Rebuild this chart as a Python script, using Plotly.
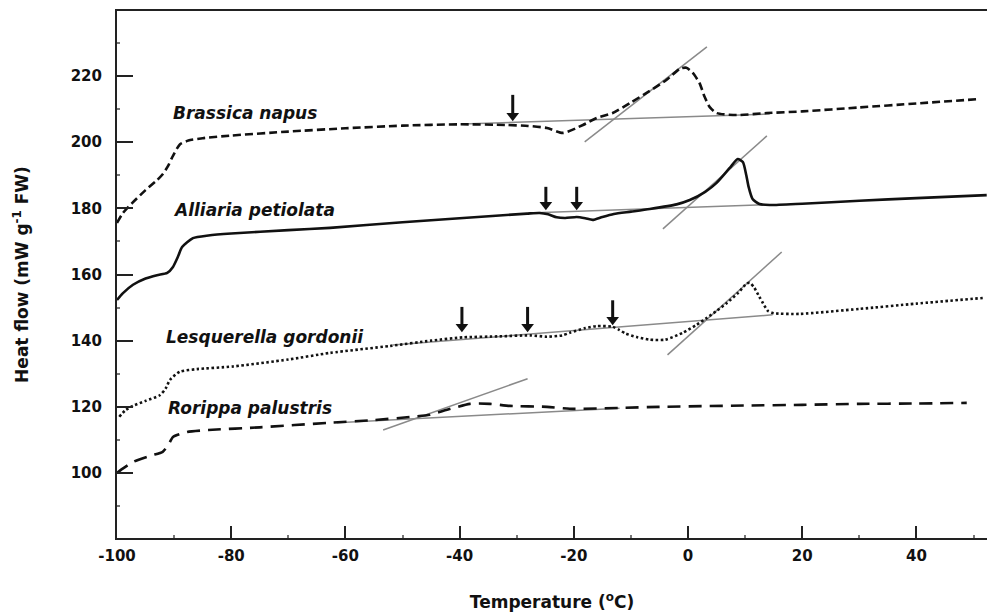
import plotly.graph_objects as go

# ---- data (temperature in degC, heat flow in mW g-1 FW) ----
brassica_x = [-100, -99, -97.4, -95, -93, -92, -91, -90.4, -89, -87.5, -85, -80, -70, -60, -50, -40,
              -32, -28, -24.7, -21.9, -18.4, -16, -13.2, -10.2, -6.7, -3.8, -1.4, -0.3, 0.8, 2, 2.9,
              3.8, 5, 8.5, 13.8, 20, 30, 40, 50.7]
brassica_y = [175.6, 178.5, 181.5, 185.5, 188.5, 190.3, 193, 195.2, 199.3, 200.5, 201.2, 202, 203.2,
              204.2, 205, 205.4, 205.2, 204.9, 204.3, 202.8, 205.2, 207.3, 208.8, 211.8, 215.5, 218.8,
              222.2, 222.5, 221, 217.9, 213.7, 210.6, 208.8, 208.2, 208.8, 209.3, 210.5, 211.7, 213]

alliaria_x = [-100, -99, -97.2, -95, -93, -91.2, -90.2, -89.3, -88.6, -86.7, -84, -80, -70, -62.7, -50,
              -40, -28.2, -26, -24.5, -23, -21.5, -19.5, -18, -16.7, -15, -13, -10, -6.7, -2, 0.3, 3, 5,
              7.3, 8.7, 9.6, 10.2, 10.6, 11.3, 12.5, 14.3, 20, 30, 40, 52.3]
alliaria_y = [152.3, 154.3, 156.9, 158.8, 159.8, 160.5, 162.3, 165.5, 168.3, 171, 171.8, 172.4, 173.4,
              174.1, 175.8, 177, 178.4, 178.6, 178.2, 177.3, 177.1, 177.4, 177, 176.5, 177.4, 178.3, 179,
              179.8, 181.2, 182.5, 185, 187.7, 192.2, 194.9, 194, 190, 186.5, 182.8, 181.3, 181, 181.4,
              182.3, 183.1, 184]

lesquerella_x = [-99.6, -98.5, -97.2, -95, -92.5, -91.5, -90.7, -89, -86, -79.7, -70, -62.7, -52.2, -45,
                 -39.4, -33, -27.7, -24.7, -22, -20.7, -18, -16, -13.2, -12, -11, -9, -6.7, -4, -0.9,
                 1.5, 3.3, 5, 6.8, 8.8, 10.3, 10.8, 11.6, 12.5, 13.1, 14, 15, 19.6, 30, 40, 51.6]
lesquerella_y = [117, 119, 120.3, 121.8, 123.5, 125.5, 128.2, 130.6, 131.4, 132.2, 134.3, 136.3, 138.4,
                 140, 141, 141.3, 141.6, 141.2, 141.6, 142.4, 143.8, 144.4, 144.2, 143.2, 142.2, 141.1,
                 140.3, 140.3, 142.4, 144.8, 146.9, 149, 151.4, 154.5, 157.3, 157.5, 156, 153.2, 151.4,
                 149, 148.3, 148.1, 149.6, 151.2, 152.9]

rorippa_x = [-100, -99, -97, -94, -92, -91, -90.2, -87.7, -84, -75, -62.7, -55, -48.2, -45.2, -42.2,
             -38.2, -34.7, -31.2, -24.7, -20.7, -11.4, -5, 10, 20, 30, 40, 48.8]
rorippa_y = [100, 101.3, 103.5, 105.3, 106.4, 108.5, 110.9, 112.4, 113, 113.8, 115.2, 116, 117, 117.6,
             119.1, 120.9, 120.9, 120.3, 120, 119.4, 119.7, 120, 120.4, 120.6, 120.9, 121, 121.2]

# construction lines (baselines and tangents)
brassica_base_x, brassica_base_y = [-39.6, 14.3], [205.5, 208.5]
brassica_tan_x, brassica_tan_y = [-18.1, 3.3], [200.1, 228.8]
alliaria_base_x, alliaria_base_y = [-28, 14], [178.6, 181.1]
alliaria_tan_x, alliaria_tan_y = [-4.4, 13.8], [173.8, 201.9]
lesquerella_base_x, lesquerella_base_y = [-51.7, 14.8], [138.7, 147.8]
lesquerella_tan_x, lesquerella_tan_y = [-3.6, 16.4], [135.7, 166.8]
rorippa_base_x, rorippa_base_y = [-61.5, -12], [115.2, 119.6]
rorippa_tan_x, rorippa_tan_y = [-53.4, -28.1], [113, 128.5]

# arrows marking transitions: x position, tip and tail heat-flow values
arrow_x = [-30.7, -24.9, -19.5, -39.6, -28.1, -13.2]
arrow_tip = [206.4, 179.5, 179.5, 142.6, 142.6, 144.7]
arrow_tail = [214.3, 186.5, 186.5, 150.2, 150.2, 152.2]

# species labels
label_text = ["Brassica napus", "Alliaria petiolata", "Lesquerella gordonii", "Rorippa palustris"]
label_x = [-90.5, -90.5, -91.8, -91.5]
label_y = [208.8, 179.5, 141.1, 119.7]

x_ticks = [-100, -80, -60, -40, -20, 0, 20, 40]
x_ticktext = ["-100", "-80", "-60", "-40", "-20", "0", "20", "40"]
y_ticks = [100, 120, 140, 160, 180, 200, 220]

FONT = "DejaVu Sans"
fig = go.Figure()

gray = dict(color="#8a8a8a", width=1.5)
for gx, gy in [(brassica_base_x, brassica_base_y), (brassica_tan_x, brassica_tan_y),
               (alliaria_base_x, alliaria_base_y), (alliaria_tan_x, alliaria_tan_y),
               (lesquerella_base_x, lesquerella_base_y), (lesquerella_tan_x, lesquerella_tan_y),
               (rorippa_base_x, rorippa_base_y), (rorippa_tan_x, rorippa_tan_y)]:
    fig.add_trace(go.Scatter(x=gx, y=gy, mode="lines", line=gray, showlegend=False, hoverinfo="skip"))

curves = [
    (brassica_x, brassica_y, "8px,4px"),
    (alliaria_x, alliaria_y, "solid"),
    (lesquerella_x, lesquerella_y, "2.5px,2.5px"),
    (rorippa_x, rorippa_y, "13px,8px"),
]
for (cx, cy, d), name in zip(curves, label_text):
    fig.add_trace(go.Scatter(x=cx, y=cy, mode="lines", name=name, showlegend=False,
                             line=dict(color="#111111", width=2.6, dash=d, shape="spline", smoothing=0.6)))

# arrows: shaft + triangular head
for ax_, tip, tail in zip(arrow_x, arrow_tip, arrow_tail):
    fig.add_trace(go.Scatter(x=[ax_, ax_], y=[tail, tip + 2.0], mode="lines",
                             line=dict(color="#111111", width=3), showlegend=False, hoverinfo="skip"))
    fig.add_trace(go.Scatter(x=[ax_], y=[tip + 1.6], mode="markers",
                             marker=dict(symbol="triangle-down", size=11, color="#111111", line=dict(width=0)),
                             showlegend=False, hoverinfo="skip"))

annotations = []
for t, lx, ly in zip(label_text, label_x, label_y):
    annotations.append(dict(x=lx, y=ly, xref="x", yref="y", text="<b><i>%s</i></b>" % t,
                            showarrow=False, xanchor="left", yanchor="middle",
                            font=dict(family=FONT, size=17, color="#111111")))

fig.update_layout(
    width=987, height=612,
    margin=dict(l=117, r=0, t=11, b=74),
    paper_bgcolor="white", plot_bgcolor="white",
    annotations=annotations,
    xaxis=dict(range=[-100, 52.35], tickvals=x_ticks, ticktext=x_ticktext, ticks="inside", ticklen=12,
               tickwidth=1.6, tickcolor="#222", showline=True, linecolor="#222", linewidth=2, mirror=True,
               showgrid=False, zeroline=False, ticklabelstandoff=3, automargin=False,
               title=dict(text="<b>Temperature (<sup>o</sup>C)</b>", standoff=32,
                          font=dict(family=FONT, size=17, color="#111111")),
               tickfont=dict(family=FONT, size=15, color="#111", weight="bold"),
               minor=dict(dtick=10, ticks="inside", ticklen=3, tickcolor="#777", showgrid=False)),
    yaxis=dict(range=[80.35, 239.65], tickvals=y_ticks, ticks="inside", ticklen=16, tickwidth=1.6,
               tickcolor="#222", showline=True, linecolor="#222", linewidth=2, mirror=False,
               showgrid=False, zeroline=False, ticklabelstandoff=10, automargin=False,
               title=dict(text="<b>Heat flow (mW g<sup>-1</sup> FW)</b>", standoff=38,
                          font=dict(family=FONT, size=17, color="#111111")),
               tickfont=dict(family=FONT, size=15, color="#111", weight="bold"),
               minor=dict(dtick=10, ticks="inside", ticklen=3, tickcolor="#777", showgrid=False)),
)

fig.write_html("out.html", config={"displayModeBar": False},
               post_script="document.body.style.margin='0';document.body.style.overflow='hidden';")
